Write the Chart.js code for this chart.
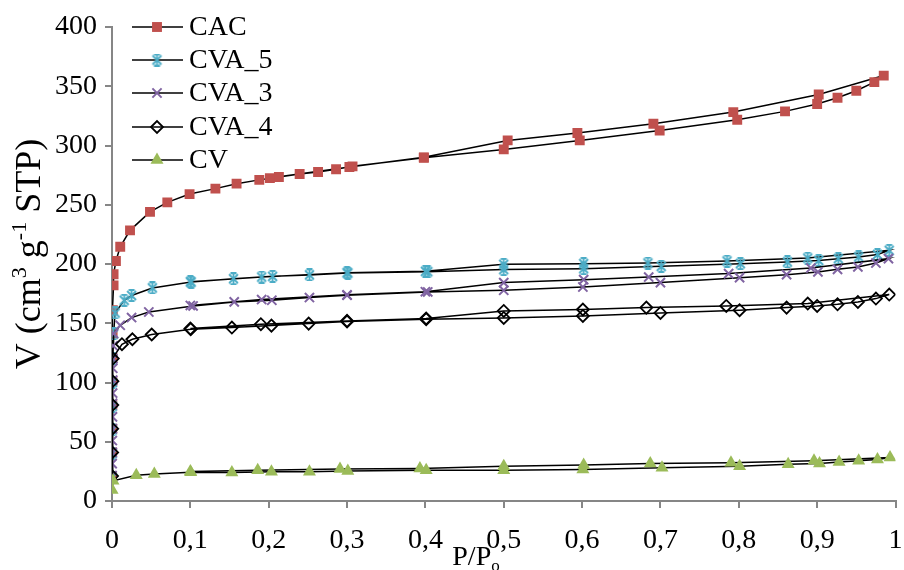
<!DOCTYPE html>
<html>
<head>
<meta charset="utf-8">
<script src="https://cdn.jsdelivr.net/npm/chart.js@4.4.1/dist/chart.umd.min.js"></script>
<style>
  html, body { margin: 0; padding: 0; background: #fff; }
  #wrap { width: 904px; height: 570px; }
</style>
</head>
<body>
<div id="wrap"><canvas id="isoterma"></canvas></div>
<script>
// Isotermas de N2: adsorción (P/Po creciente) y luego desorción (P/Po decreciente)
const cacP = [0.0001, 0.0002, 0.0003, 0.0004, 0.0005, 0.0006, 0.0008, 0.001, 0.002, 0.002, 0.005, 0.0105, 0.023, 0.0485, 0.0706, 0.099, 0.132, 0.159, 0.188, 0.213, 0.2395, 0.263, 0.286, 0.307, 0.398, 0.5, 0.597, 0.699, 0.798, 0.859, 0.9, 0.926, 0.95, 0.973, 0.985,
              0.902, 0.793, 0.691, 0.594, 0.505, 0.398, 0.303, 0.2015];
const cacV = [21, 41, 61, 81, 101, 121, 141.3, 161, 182, 191.3, 202.5, 214.5, 228.4, 244, 252, 259, 263.6, 267.8, 271, 273.4, 276, 277.6, 280, 282.4, 289.7, 296.7, 304.3, 312.7, 321.7, 328.8, 335, 340.3, 346.2, 353.5, 359,
              343, 328.2, 318.4, 310.5, 304.3, 290, 281.8, 272.5];

const cva5P = [0.0001, 0.0002, 0.0003, 0.0004, 0.0005, 0.0007, 0.002, 0.004, 0.0156, 0.025, 0.0515, 0.101, 0.155, 0.205, 0.252, 0.301, 0.403, 0.5, 0.602, 0.701, 0.802, 0.862, 0.902, 0.927, 0.953, 0.977, 0.992,
               0.888, 0.785, 0.684, 0.602, 0.5, 0.4, 0.3, 0.191, 0.1];
const cva5V = [20, 40, 60, 80, 100, 120, 141, 158.7, 169.4, 173.4, 179.8, 184.8, 187.5, 189.6, 190.8, 192.4, 193.5, 195.3, 196, 198, 200.3, 201.7, 203, 204.5, 206, 208, 211.5,
               205, 202.5, 200.8, 200.3, 199.7, 193.8, 192.6, 189, 185];

const cva3P = [0.0001, 0.0002, 0.0003, 0.0004, 0.0005, 0.0006, 0.0007, 0.0008, 0.0009, 0.001, 0.0012, 0.0015, 0.002, 0.0105, 0.025, 0.047, 0.1035, 0.156, 0.204, 0.252, 0.3, 0.403, 0.5, 0.601, 0.7, 0.801, 0.861, 0.901, 0.926, 0.952, 0.975, 0.991,
               0.892, 0.787, 0.685, 0.602, 0.5, 0.4, 0.3, 0.191, 0.1];
const cva3V = [21.5, 31.5, 41, 51, 61, 71, 82.5, 91, 102, 112, 120, 131, 141.3, 148.3, 154.8, 159.5, 164.6, 168, 169.4, 171.7, 173.6, 176.4, 177.8, 180.6, 184.3, 188.5, 191, 193.3, 195.5, 197.5, 200.8, 204.5,
               196.6, 191.9, 189, 186.8, 184.3, 176.6, 174, 170, 165];

const cva4P = [0.0001, 0.0002, 0.0003, 0.0004, 0.0006, 0.001, 0.0127, 0.026, 0.0507, 0.1005, 0.153, 0.2035, 0.251, 0.3, 0.401, 0.5, 0.601, 0.7, 0.801, 0.861, 0.9, 0.926, 0.952, 0.975, 0.992,
               0.888, 0.784, 0.682, 0.601, 0.5, 0.401, 0.3, 0.19, 0.1];
const cva4V = [21, 41, 61, 81, 101, 120.2, 132.3, 136.5, 140.5, 145, 146.4, 148, 149.7, 151.4, 153.4, 154.5, 156.2, 158.7, 161, 163.2, 164.6, 166, 168, 170.8, 174.2,
               166.6, 164.6, 163.2, 161.6, 160.4, 154, 152, 149.2, 145.5];

const cvP = [0.0001, 0.0013, 0.031, 0.054, 0.1005, 0.153, 0.2035, 0.252, 0.301, 0.401, 0.5, 0.601, 0.702, 0.801, 0.863, 0.903, 0.928, 0.953, 0.977, 0.993,
             0.896, 0.79, 0.687, 0.602, 0.5, 0.393, 0.291, 0.186, 0.1];
const cvV = [9.2, 17, 21.8, 22.7, 24.3, 24.1, 24.6, 24.6, 25.3, 26, 26, 26.6, 28, 29.4, 31.1, 31.7, 33, 33.9, 35, 36.8,
             33.9, 32.2, 31.7, 30.3, 29.4, 27.5, 26.9, 26, 25];

const xTicks = [0, 0.1, 0.2, 0.3, 0.4, 0.5, 0.6, 0.7, 0.8, 0.9, 1];
const yTicks = [0, 50, 100, 150, 200, 250, 300, 350, 400];

const SERIF = '"Liberation Serif", "Times New Roman", serif';
const GRIS = '#868686';

const pares = (p, v) => p.map((x, i) => ({ x: x, y: v[i] }));

// marcador tipo asterisco (aspa + barra vertical con remates)
function marcaEstrella(color) {
  const c = document.createElement('canvas');
  c.width = 13; c.height = 13;
  const g = c.getContext('2d');
  g.strokeStyle = color;
  g.lineWidth = 1.8;
  g.beginPath();
  g.moveTo(2, 2); g.lineTo(11, 11);
  g.moveTo(11, 2); g.lineTo(2, 11);
  g.moveTo(6.5, 1); g.lineTo(6.5, 12);
  g.moveTo(3.5, 1); g.lineTo(9.5, 1);
  g.moveTo(3.5, 12); g.lineTo(9.5, 12);
  g.stroke();
  return c;
}

function serie(label, p, v, estilo, orden) {
  return Object.assign({
    label: label,
    data: pares(p, v),
    showLine: true,
    borderColor: '#000',
    borderWidth: 1.5,
    order: orden
  }, estilo);
}

const datasets = [
  serie('CAC', cacP, cacV, { pointStyle: 'rect', pointRadius: 7, pointBackgroundColor: '#C0504D', pointBorderColor: '#C0504D', pointBorderWidth: 0 }, 5),
  serie('CVA_5', cva5P, cva5V, { pointStyle: marcaEstrella('#4BACC6'), pointRadius: 6 }, 4),
  serie('CVA_3', cva3P, cva3V, { pointStyle: 'crossRot', pointRadius: 6.5, pointBorderColor: '#8064A2', pointBorderWidth: 2 }, 3),
  serie('CVA_4', cva4P, cva4V, { pointStyle: 'rectRot', pointRadius: 6, pointBackgroundColor: 'rgba(0,0,0,0)', pointBorderColor: '#000', pointBorderWidth: 1.8 }, 2),
  serie('CV', cvP, cvV, { pointStyle: 'triangle', pointRadius: 7.5, pointBackgroundColor: '#9BBB59', pointBorderColor: '#9BBB59', pointBorderWidth: 0 }, 1)
];

// leyenda dentro del área de trazado, arriba a la izquierda
const leyenda = {
  id: 'leyenda',
  afterDraw(chart) {
    const ctx = chart.ctx;
    const filas = [27, 60, 93, 127, 160];
    ctx.save();
    chart.data.datasets.forEach((ds, i) => {
      const y = filas[i];
      ctx.strokeStyle = '#000';
      ctx.lineWidth = 1.5;
      ctx.beginPath();
      ctx.moveTo(132, y); ctx.lineTo(183, y);
      ctx.stroke();
      ctx.fillStyle = ds.pointBackgroundColor || '#000';
      ctx.strokeStyle = ds.pointBorderColor || '#000';
      ctx.lineWidth = ds.pointBorderWidth || 0;
      Chart.helpers.drawPoint(ctx, {
        pointStyle: ds.pointStyle, radius: ds.pointRadius, rotation: 0, borderWidth: ds.pointBorderWidth || 0
      }, 157, y);
      ctx.fillStyle = '#000';
      ctx.font = '28px ' + SERIF;
      ctx.textBaseline = 'middle';
      ctx.textAlign = 'left';
      ctx.fillText(ds.label, 189, y + 1);
    });
    ctx.restore();
  }
};

// títulos de ejes con superíndices y subíndice
const titulos = {
  id: 'titulos',
  afterDraw(chart) {
    const ctx = chart.ctx;
    const trozos = (partes, size) => partes.map(([t, tipo]) => ({
      t, tipo, f: (tipo ? Math.round(size * 0.62) : size) + 'px ' + SERIF
    }));
    const ancho = (ps) => ps.reduce((s, p) => { ctx.font = p.f; return s + ctx.measureText(p.t).width; }, 0);
    const escribe = (ps, x0, base, size) => {
      let x = x0;
      ps.forEach(p => {
        ctx.font = p.f;
        const dy = p.tipo === 'sup' ? -size * 0.38 : p.tipo === 'sub' ? size * 0.22 : 0;
        ctx.fillText(p.t, x, base + dy);
        x += ctx.measureText(p.t).width;
      });
    };
    ctx.save();
    ctx.fillStyle = '#000';
    ctx.textBaseline = 'alphabetic';
    ctx.textAlign = 'left';

    const ty = 36;
    const yt = trozos([['V (cm', ''], ['3', 'sup'], [' g', ''], ['-1', 'sup'], [' STP)', '']], ty);
    ctx.save();
    ctx.translate(40, 254);
    ctx.rotate(-Math.PI / 2);
    escribe(yt, -ancho(yt) / 2, 0, ty);
    ctx.restore();

    const tx = 28;
    const xt = trozos([['P/P', ''], ['o', 'sub']], tx);
    escribe(xt, 476 - ancho(xt) / 2, 565, tx);
    ctx.restore();
  }
};

const eje = {
  grid: { display: true, drawOnChartArea: false, drawTicks: true, tickLength: 7, color: GRIS, lineWidth: 2 },
  border: { display: true, color: GRIS, width: 2 },
  ticks: { color: '#000', font: { family: SERIF, size: 28 } }
};

new Chart(document.getElementById('isoterma'), {
  type: 'scatter',
  data: { datasets: datasets },
  options: {
    responsive: true,
    maintainAspectRatio: false,
    animation: false,
    events: [],
    layout: { padding: { top: 27, right: 3, left: 0, bottom: 0 } },
    plugins: { legend: { display: false }, tooltip: { enabled: false } },
    scales: {
      x: Object.assign({}, eje, {
        type: 'linear', min: 0, max: 1,
        ticks: Object.assign({}, eje.ticks, { padding: 16, callback: v => String(v).replace('.', ',') }),
        afterBuildTicks: s => { s.ticks = xTicks.map(v => ({ value: v })); },
        afterFit: s => { s.height = 69; s.paddingLeft = 0; s.paddingRight = 0; }
      }),
      y: Object.assign({}, eje, {
        type: 'linear', min: 0, max: 400,
        ticks: Object.assign({}, eje.ticks, { padding: 8 }),
        afterBuildTicks: s => { s.ticks = yTicks.map(v => ({ value: v })); },
        afterFit: s => { s.width = 112; s.paddingTop = 0; s.paddingBottom = 0; }
      })
    }
  },
  plugins: [leyenda, titulos]
});
</script>
</body>
</html>
